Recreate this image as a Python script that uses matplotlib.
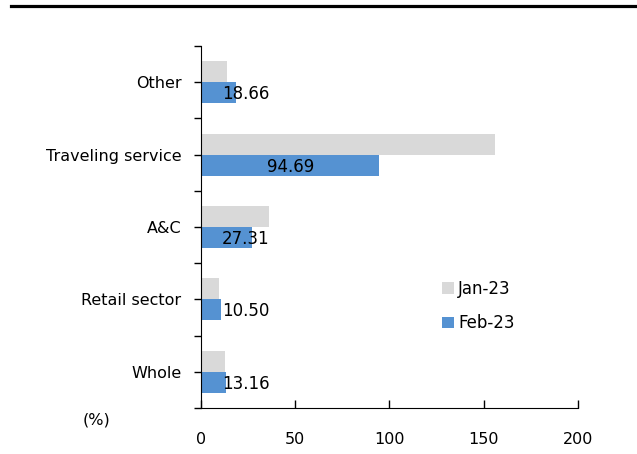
import matplotlib.pyplot as plt
import numpy as np

# growth by sector, top to bottom: Other, Traveling service, A&C, Retail, Whole
categories = ['Whole', 'Retail sector', 'A&C', 'Traveling service', 'Other']
jan23 = [12.7, 9.5, 35.9, 156.0, 13.6]
feb23 = [13.16, 10.50, 27.31, 94.69, 18.66]
xticks = [0, 50, 100, 150, 200]

fig = plt.figure(figsize=(6.37, 4.54), dpi=100)
# heavy rule across the top
fig.add_artist(plt.Line2D([0.017, 1.0], [0.9865, 0.9865], color='black', lw=2.3))

ax = fig.add_axes([0.3155, 0.1013, 0.5918, 0.7974])
y = np.arange(len(categories))
h = 0.29
ax.barh(y + h / 2, jan23, height=h, color='#d9d9d9', label='Jan-23')
ax.barh(y - h / 2, feb23, height=h, color='#5592d2', label='Feb-23')

for yi, v in zip(y, feb23):
    ax.text(max(v / 2, 23.7), yi - h / 2 - 0.02, '%.2f' % v, ha='center', va='center',
            fontsize=12, color='black')

ax.set_xlim(0, 200)
ax.set_ylim(-0.5, 4.5)
ax.set_xticks(xticks)
ax.set_xticklabels([str(t) for t in xticks], fontsize=11.5)
ax.set_yticks(y)
ax.set_yticklabels(categories, fontsize=11.5)
ax.set_yticks(np.arange(-0.5, 5, 1), minor=True)
ax.tick_params(axis='y', which='both', direction='out', length=5, pad=9, width=1)
ax.tick_params(axis='x', direction='in', length=6, pad=17, width=1)
for s in ['top', 'right']:
    ax.spines[s].set_visible(False)

fig.text(0.152, 0.075, '(%)', fontsize=11.5, ha='center', va='center')

ax.legend(loc='center left', bbox_to_anchor=(0.6, 0.282), frameon=False,
          fontsize=12, handlelength=0.7, handleheight=0.7, handletextpad=0.25,
          labelspacing=1.0)

fig.savefig('out.png', dpi=100)
